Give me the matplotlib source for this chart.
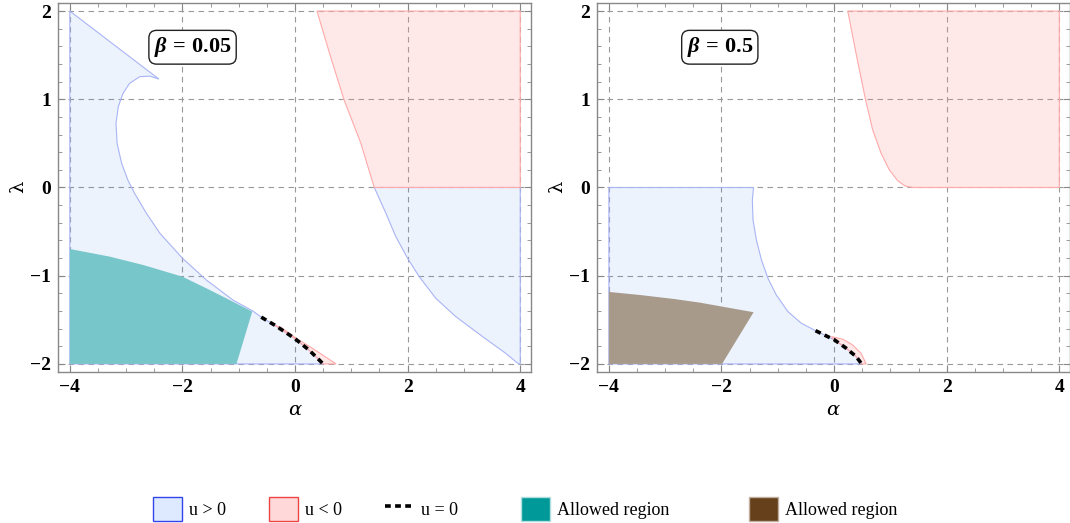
import numpy as np
import matplotlib.pyplot as plt
from matplotlib.patches import Polygon, Patch
from matplotlib.lines import Line2D
from matplotlib.ticker import MultipleLocator

plt.rcParams['mathtext.fontset'] = 'custom'
plt.rcParams['mathtext.rm'] = 'Liberation Serif:bold'
plt.rcParams['mathtext.it'] = 'Liberation Serif:italic:bold'
plt.rcParams['mathtext.bf'] = 'Liberation Serif:bold'

# ---- beta = 0.05 ----
b1_pos_left_x = [-4.0, -2.417, -2.58, -2.76, -2.94, -3.055, -3.14, -3.18, -3.16, -3.08, -2.97,
                 -2.85, -2.64, -2.40, -2.00, -1.576, -1.105, -0.75, -0.60]
b1_pos_left_y = [2.0, 1.229, 1.263, 1.256, 1.18, 1.067, 0.916, 0.727, 0.50, 0.274, 0.085,
                 -0.066, -0.292, -0.519, -0.802, -1.048, -1.275, -1.40, -1.47]
b1_zero_x = [-0.60, -0.354, 0.0, 0.256, 0.50]
b1_zero_y = [-1.47, -1.563, -1.714, -1.847, -2.0]
b1_neg_small_x = [-0.24, 0.0, 0.35, 0.73]
b1_neg_small_y = [-1.59, -1.70, -1.84, -2.0]
b1_pos_right_x = [1.408, 1.615, 1.79, 2.0, 2.206, 2.50, 2.856, 3.33, 3.74, 3.97]
b1_pos_right_y = [0.0, -0.293, -0.557, -0.803, -1.011, -1.256, -1.464, -1.69, -1.879, -2.0]
b1_neg_top_x = [0.39, 0.623, 0.867, 1.17, 1.295, 1.408]
b1_neg_top_y = [2.0, 1.50, 1.0, 0.5, 0.235, 0.0]
b1_allowed_x = [-4.0, -3.29, -2.70, -2.00, -1.52, -1.105, -0.76, -1.04, -4.0]
b1_allowed_y = [-0.697, -0.784, -0.878, -1.011, -1.16, -1.294, -1.407, -2.0, -2.0]

# ---- beta = 0.5 ----
b2_pos_x = [-1.43, -1.452, -1.44, -1.38, -1.29, -1.175, -1.027, -0.82, -0.583, -0.33]
b2_pos_y = [0.0, -0.142, -0.368, -0.595, -0.822, -1.029, -1.218, -1.407, -1.539, -1.623]
b2_zero_x = [-0.33, 0.007, 0.214, 0.392, 0.49]
b2_zero_y = [-1.623, -1.728, -1.822, -1.917, -2.0]
b2_neg_small_x = [-0.05, 0.155, 0.33, 0.48, 0.57]
b2_neg_small_y = [-1.69, -1.72, -1.785, -1.88, -2.0]
b2_neg_top_x = [0.243, 0.39, 0.557, 0.686, 0.835, 0.982, 1.13, 1.26, 1.40]
b2_neg_top_y = [2.0, 1.52, 1.0, 0.652, 0.387, 0.198, 0.077, 0.017, 0.0]
b2_allowed_x = [-4.0, -3.43, -2.83, -2.387, -1.43, -1.99, -4.0]
b2_allowed_y = [-1.184, -1.22, -1.265, -1.305, -1.414, -2.0, -2.0]

betas = ['0.05', '0.5']

blue_fc = (0.30, 0.55, 0.95, 0.10)
blue_ec = '#a9b4f5'
red_fc = (1.0, 0.55, 0.55, 0.20)
red_ec = '#ffaaaa'
teal = '#77c6ca'
brown = '#a89a8b'
serif = 'Liberation Serif'


def region(ax, xs, ys, fc, ec):
    ax.add_patch(Polygon(np.column_stack([xs, ys]), closed=True, facecolor=fc,
                         edgecolor=ec, lw=0.8, zorder=2))


def style_axes(ax):
    ax.set_xlim(-4.21, 4.19)
    ax.set_ylim(-2.09, 2.09)
    ax.xaxis.set_major_locator(MultipleLocator(2))
    ax.xaxis.set_minor_locator(MultipleLocator(0.5))
    ax.yaxis.set_major_locator(MultipleLocator(1))
    ax.yaxis.set_minor_locator(MultipleLocator(0.2))
    ax.tick_params(which='both', direction='in', top=True, right=True, color='#888888')
    ax.tick_params(which='major', length=5, width=0.8, labelsize=14, pad=5)
    ax.tick_params(which='minor', length=3, width=0.6)
    for lab in ax.get_xticklabels() + ax.get_yticklabels():
        lab.set_fontfamily(serif)
        lab.set_fontweight('bold')
    for sp in ax.spines.values():
        sp.set_color('#888888')
        sp.set_linewidth(1.0)
    for v in [-4, -2, 0, 2, 4]:
        ax.axvline(v, color='#999999', lw=0.8, ls=(0, (5, 4)), zorder=1)
    for v in [-2, -1, 0, 1, 2]:
        ax.axhline(v, color='#999999', lw=0.8, ls=(0, (5, 4)), zorder=1)


fig = plt.figure(figsize=(10.7, 5.23), dpi=100)
ax1 = fig.add_axes([0.0542, 0.289, 0.442, 0.705])
ax2 = fig.add_axes([0.558, 0.289, 0.442, 0.705])

# left panel
region(ax1, b1_pos_left_x + b1_zero_x + [-4.0], b1_pos_left_y + b1_zero_y + [-2.0], blue_fc, blue_ec)
region(ax1, b1_pos_right_x + [4.0, 4.0], b1_pos_right_y + [-2.0, 0.0], blue_fc, blue_ec)
region(ax1, b1_neg_top_x + [4.0, 4.0], b1_neg_top_y + [0.0, 2.0], red_fc, red_ec)
region(ax1, b1_neg_small_x + b1_zero_x[::-1][:-1], b1_neg_small_y + b1_zero_y[::-1][:-1], red_fc, red_ec)
ax1.fill(b1_allowed_x, b1_allowed_y, color=teal, lw=0, zorder=3)
ax1.plot(b1_zero_x, b1_zero_y, color='black', lw=2.6, ls=(0, (1.6, 1.2)), zorder=4)

# right panel
region(ax2, [-4.0] + b2_pos_x + b2_zero_x + [-4.0], [0.0] + b2_pos_y + b2_zero_y + [-2.0], blue_fc, blue_ec)
region(ax2, b2_neg_top_x + [4.0, 4.0], b2_neg_top_y + [0.0, 2.0], red_fc, red_ec)
region(ax2, b2_neg_small_x + b2_zero_x[::-1][:-1], b2_neg_small_y + b2_zero_y[::-1][:-1], red_fc, red_ec)
ax2.fill(b2_allowed_x, b2_allowed_y, color=brown, lw=0, zorder=3)
ax2.plot(b2_zero_x, b2_zero_y, color='black', lw=2.6, ls=(0, (1.6, 1.2)), zorder=4)

for ax, b, bx in zip([ax1, ax2], betas, [-1.82, -2.03]):
    style_axes(ax)
    ax.text(bx, 1.59, r'$\beta\,=\,\mathbf{' + b + '}$', fontsize=16,
            ha='center', va='center', zorder=6,
            bbox=dict(boxstyle='round,pad=0.22,rounding_size=0.35', fc='white', ec='#222222', lw=1.0))

for xc in [295, 833]:
    fig.text(xc / 1070, 1 - 410 / 523, 'α', fontsize=14, fontfamily='DejaVu Serif',
             fontstyle='italic', ha='center', va='center')
for xc in [18, 557]:
    fig.text(xc / 1070, 1 - 187 / 523, 'λ', fontsize=14, fontfamily='DejaVu Serif',
             rotation=90, ha='center', va='center')

# legend entries placed one by one along the bottom
entries = [
    (Patch(facecolor='#ddeaff', edgecolor='#3344ee', lw=1.0), 'u > 0', 153),
    (Patch(facecolor='#ffd9d9', edgecolor='#ee4444', lw=1.0), 'u < 0', 269),
    (Line2D([], [], color='black', lw=2.6, ls=(0, (1.6, 1.2))), 'u = 0', 385),
    (Patch(facecolor='#009999', edgecolor='#b0dede', lw=1.0), 'Allowed region', 521),
    (Patch(facecolor='#66401a', edgecolor='#c0b0a0', lw=1.0), 'Allowed region', 749),
]
for h, lab, xp in entries:
    fig.legend([h], [lab], loc='center left', bbox_to_anchor=(xp / 1070, 1 - 509 / 523),
               frameon=False, prop={'family': serif, 'size': 13}, handlelength=1.6,
               handleheight=1.6, handletextpad=0.4, borderpad=0, borderaxespad=0)

fig.savefig('out.png', dpi=100)
